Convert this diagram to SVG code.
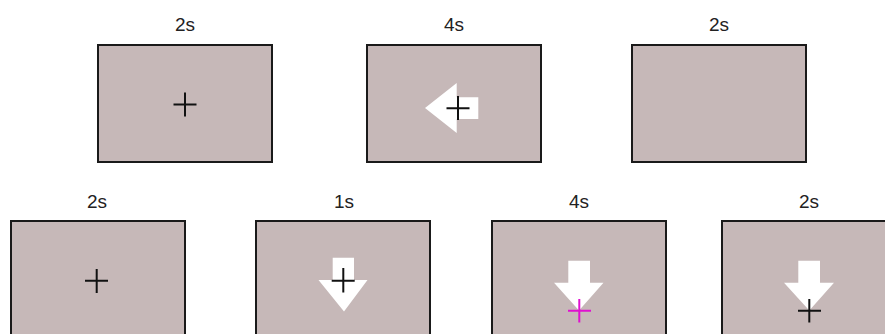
<svg xmlns="http://www.w3.org/2000/svg" width="885" height="334" viewBox="0 0 885 334">
<style>
.box{fill:#c6b8b8;stroke:#1a1a1a;stroke-width:2}
.lbl{font-family:"Liberation Sans",Arial,sans-serif;font-size:19px;fill:#222;text-anchor:middle}
.arr{fill:#fff;stroke:none}
.fix{stroke:#111;stroke-width:2;fill:none}
.fixm{stroke:#e010d0;stroke-width:2;fill:none}
</style>
<rect width="885" height="334" fill="#fff"/>
<g id="s1">
<text class="lbl" x="185" y="31">2s</text>
<rect class="box" x="98" y="45" width="174" height="117"/>
<path class="fix" d="M173.5 104.5h23M185 92.5v24"/>
</g>
<g id="s2">
<text class="lbl" x="454" y="31">4s</text>
<rect class="box" x="367" y="45" width="174" height="117"/>
<path class="arr" d="M425 108L456.7 83V97.3H478.3V119H456.7V133Z"/>
<path class="fix" d="M446.5 108.3h23M458 96v24"/>
</g>
<g id="s3">
<text class="lbl" x="719" y="31">2s</text>
<rect class="box" x="632" y="45" width="174" height="117"/>
</g>
<g id="s4">
<text class="lbl" x="97" y="208">2s</text>
<rect class="box" x="11" y="221" width="174" height="130"/>
<path class="fix" d="M85 280.7h23M96.7 269v24"/>
</g>
<g id="s5">
<text class="lbl" x="344" y="208">1s</text>
<rect class="box" x="256" y="221" width="174" height="130"/>
<path class="arr" d="M332.7 257.7H354V280H367.5L344 311.5L318.5 280H332.7Z"/>
<path class="fix" d="M331.7 280.7h23M343.3 268v24.5"/>
</g>
<g id="s6">
<text class="lbl" x="579" y="208">4s</text>
<rect class="box" x="492" y="221" width="174" height="130"/>
<path class="arr" d="M568.3 260.7H590V282.7H603.5L579 310.5L554 282.7H568.3Z"/>
<path class="fixm" d="M568 310.7h23M579.3 299v23.5"/>
</g>
<g id="s7">
<text class="lbl" x="809" y="208">2s</text>
<rect class="box" x="722" y="221" width="174" height="130"/>
<path class="arr" d="M798.3 260.7H820V282.7H834L809.3 310.5L784 282.7H798.3Z"/>
<path class="fix" d="M798 310.7h23M809.3 299v23.5"/>
</g>
</svg>
